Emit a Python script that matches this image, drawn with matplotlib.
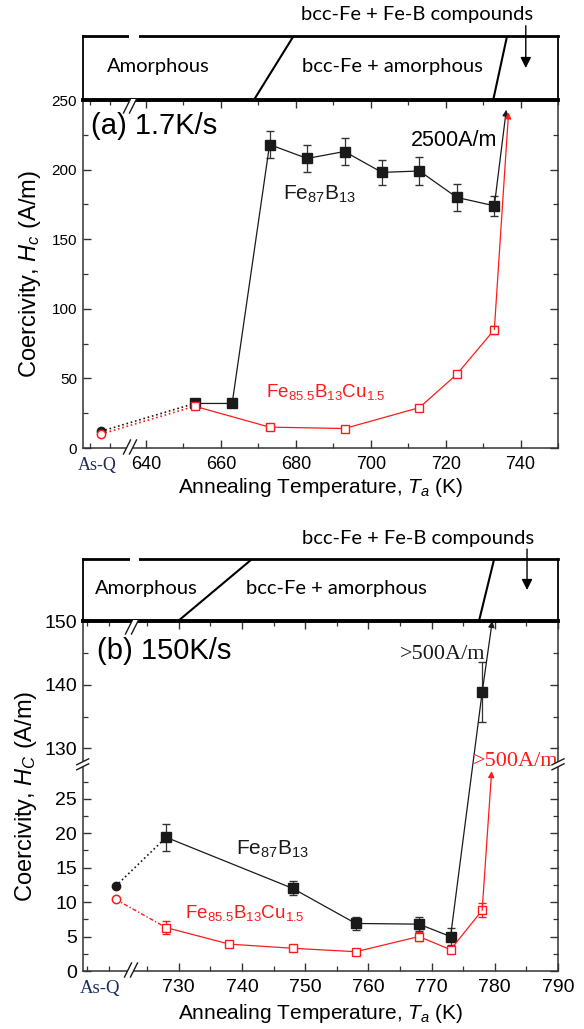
import numpy as np
import matplotlib
matplotlib.use('Agg')
import matplotlib.pyplot as plt
from matplotlib.transforms import IdentityTransform, blended_transform_factory
from matplotlib.patches import Polygon
from matplotlib.lines import Line2D

plt.rcParams['font.family'] = ['Liberation Sans', 'DejaVu Sans']
plt.rcParams['mathtext.fontset'] = 'custom'
plt.rcParams['mathtext.rm'] = 'Liberation Sans'
plt.rcParams['mathtext.it'] = 'Liberation Sans:italic'

# ---- data: (a) 1.7 K/s ----
a_T_fe = [653, 663, 673, 683, 693, 703, 713, 723, 733]
a_hc_fe = [32, 32, 218, 208, 213, 198, 199, 180, 174]
a_err_fe = [0, 0, 10, 10, 10, 9, 10, 10, 7]
a_T_cu = [653, 673, 693, 713, 723, 733]
a_hc_cu = [30, 15, 14, 29, 53, 85]
a_err_cu = [0, 0, 0, 0, 0, 3]
a_asq_T = 628
a_asq_fe = 12
a_asq_cu = 10
a_tip_fe = (736.2, 243)
a_tip_cu = (736.8, 241)

# ---- data: (b) 150 K/s ----
b_T_fe = [728, 748, 758, 768, 773, 778]
b_hc_fe = [19.4, 12.0, 6.9, 6.8, 5.0, 138.8]
b_err_fe = [2.0, 1.0, 1.0, 1.0, 1.2, 4.7]
b_T_cu = [728, 738, 748, 758, 768, 773, 778]
b_hc_cu = [6.3, 3.9, 3.3, 2.8, 5.0, 3.1, 8.8]
b_err_cu = [1.0, 0.3, 0.3, 0.3, 0.6, 0.3, 1.0]
b_asq_T = 720
b_asq_fe = 12.3
b_asq_cu = 10.4
b_tip_fe = (779.6, 150)
b_tip_cu = (779.5, 29)

RED = '#ff1a1a'
BLK = '#1a1a1a'
W, H = 584, 1029

fig = plt.figure(figsize=(W / 100, H / 100), dpi=100)


def rect(l, t, r, b):
    return [l / W, 1 - b / H, (r - l) / W, (b - t) / H]


def pix(x, y):
    return x, H - y


def add_slash(x, y, vertical_spine=False, dx=7, dy=14, gap=6):
    # two parallel slashes with white in between, pixel coords of the image
    if not vertical_spine:
        p1 = [(x - gap / 2 - dx / 2, y + dy / 2), (x - gap / 2 + dx / 2, y - dy / 2)]
        p2 = [(x + gap / 2 - dx / 2, y + dy / 2), (x + gap / 2 + dx / 2, y - dy / 2)]
    else:
        p1 = [(x - dy / 2, y - gap / 2 + dx / 2), (x + dy / 2, y - gap / 2 - dx / 2)]
        p2 = [(x - dy / 2, y + gap / 2 + dx / 2), (x + dy / 2, y + gap / 2 - dx / 2)]
    poly = [pix(*p1[0]), pix(*p1[1]), pix(*p2[1]), pix(*p2[0])]
    fig.add_artist(Polygon(poly, closed=True, facecolor='white', edgecolor='none',
                           transform=IdentityTransform(), zorder=5))
    for p in (p1, p2):
        fig.add_artist(Line2D([pix(*p[0])[0], pix(*p[1])[0]], [pix(*p[0])[1], pix(*p[1])[1]],
                              color=BLK, lw=1.0, transform=IdentityTransform(), zorder=6))


def gap_rect(x0, x1, y, h=4):
    poly = [pix(x0, y - h), pix(x1, y - h), pix(x1, y + h), pix(x0, y + h)]
    fig.add_artist(Polygon(poly, closed=True, facecolor='white', edgecolor='none',
                           transform=IdentityTransform(), zorder=5))


def style_axes(ax, xsize, ysize):
    for s in ['left', 'right', 'bottom']:
        ax.spines[s].set_linewidth(1.1)
        ax.spines[s].set_color('#333333')
    ax.spines['top'].set_visible(False)
    ax.tick_params(which='both', direction='in', top=True, right=True, color='#333333')
    ax.tick_params(which='major', length=6, width=1.0)
    ax.tick_params(which='minor', length=3.5, width=0.9)
    ax.tick_params(axis='x', labelsize=xsize, pad=6)
    ax.tick_params(axis='y', labelsize=ysize, pad=4)


def header(ax, xlim, div1, div2, arrow_x, t_amor, t_bcc, t_comp):
    ax.set_xlim(*xlim)
    ax.set_ylim(0, 1)
    ax.set_xticks([])
    ax.set_yticks([])
    ax.spines['top'].set_linewidth(2.0)
    ax.spines['bottom'].set_linewidth(2.8)
    ax.spines['left'].set_linewidth(1.3)
    ax.spines['right'].set_linewidth(1.3)
    ax.plot(div1[0], [1, 0], color='black', lw=1.5)
    ax.plot(div2[0], [1, 0], color='black', lw=1.5)
    ax.text(t_amor, 0.52, 'Amorphous', ha='center', va='center', fontsize=14.5, family='Lato')
    ax.text(t_bcc, 0.52, 'bcc-Fe + amorphous', ha='center', va='center', fontsize=14.5, family='Lato')
    ax.text(t_comp, 1.33, 'bcc-Fe + Fe-B compounds', ha='center', va='center', fontsize=14.5,
            family='Lato', clip_on=False)
    ax.annotate('', xy=(arrow_x, 0.5), xytext=(arrow_x, 1.16), xycoords='data',
                arrowprops=dict(arrowstyle='-|>', color='black', lw=1.0, mutation_scale=16,
                                shrinkA=0, shrinkB=0), annotation_clip=False)


# ================= panel (a) =================
axA = fig.add_axes(rect(82.7, 100, 558, 448))
hA = fig.add_axes(rect(82.7, 36, 558, 100))
axA.set_xlim(623.1, 750)
axA.set_ylim(0, 250)
style_axes(axA, 13, 11)
axA.set_xticks(np.arange(640, 741, 20))
axA.set_xticks([625, 630.5] + list(np.arange(650, 751, 20)), minor=True)
axA.set_yticks(np.arange(0, 251, 50))
axA.set_yticks(np.arange(25, 250, 50), minor=True)

axA.plot([a_asq_T, a_T_fe[0]], [a_asq_fe, a_hc_fe[0]], ls=':', color=BLK, lw=1.2)
axA.plot([a_asq_T, a_T_cu[0]], [a_asq_cu, a_hc_cu[0]], ls=':', color=RED, lw=1.2)
axA.plot(a_asq_T, a_asq_fe, 'o', color=BLK, ms=6)
axA.plot(a_asq_T, a_asq_cu, 'o', mfc='white', mec=RED, color=RED, ms=6, mew=1.1)
axA.errorbar(a_T_fe, a_hc_fe, yerr=a_err_fe, fmt='none', ecolor='#333333', elinewidth=0.9, capsize=3)
axA.errorbar(a_T_cu, a_hc_cu, yerr=a_err_cu, fmt='none', ecolor=RED, elinewidth=0.9, capsize=3)
axA.plot(a_T_fe, a_hc_fe, '-s', color=BLK, lw=0.9, ms=6.5)
axA.plot(a_T_cu, a_hc_cu, '-s', color=RED, lw=0.9, ms=6, mfc='white', mew=1.0)
axA.annotate('', xy=a_tip_fe, xytext=(a_T_fe[-1], a_hc_fe[-1]),
             arrowprops=dict(arrowstyle='-|>', color=BLK, lw=0.9, mutation_scale=9, shrinkA=0, shrinkB=0))
axA.annotate('', xy=a_tip_cu, xytext=(a_T_cu[-1], a_hc_cu[-1]),
             arrowprops=dict(arrowstyle='-|>', color=RED, lw=0.9, mutation_scale=9, shrinkA=0, shrinkB=0))

axA.text(0.017, 0.925, '(a) 1.7K/s', transform=axA.transAxes, fontsize=21, va='center', ha='left')
axA.text(733.8, 221, '2500A/m', fontsize=15.5, ha='right', va='center')
axA.text(686.4, 182, r'$\mathregular{Fe_{87}B_{13}}$', fontsize=15, ha='center', va='center', color=BLK)
axA.text(688, 40, r'$\mathregular{Fe_{85.5}B_{13}Cu_{1.5}}$', fontsize=13.5, ha='center', va='center',
         color=RED)

trA = blended_transform_factory(axA.transData, axA.transAxes)
axA.text(627, -0.025, 'As-Q', transform=trA, ha='center', va='top', fontsize=13,
         family='Liberation Serif', color='#1f2d5c')
axA.set_xlabel(r'Annealing Temperature, $T_a$ (K)', fontsize=15, labelpad=2)
axA.set_ylabel(r'Coercivity, $H_c$ (A/m)', fontsize=17, labelpad=6)

header(hA, (623.1, 750), ([679.4, 668.8],), ([736.4, 732.7],), 741.4, 643.2, 705.8, 712.5)

# ================= panel (b) =================
LO, HI = 30.0, 127.5
SLO, SHI = 6.87, 6.35


def fwd(v):
    v = np.asarray(v, dtype=float)
    return np.where(v <= LO, v * SLO, np.where(v >= HI, LO * SLO + (v - HI) * SHI, LO * SLO))


def inv(u):
    u = np.asarray(u, dtype=float)
    return np.where(u <= LO * SLO, u / SLO, HI + (u - LO * SLO) / SHI)


axB = fig.add_axes(rect(82.7, 621, 558, 971))
hB = fig.add_axes(rect(82.7, 559, 558, 621))
axB.set_yscale('function', functions=(fwd, inv))
axB.set_xlim(714.8, 790)
axB.set_ylim(0, 150)
style_axes(axB, 14, 14)
axB.set_xticks(np.arange(730, 791, 10))
axB.set_xticks([715.5, 719] + list(np.arange(725, 790, 10)), minor=True)
ymaj = [0, 5, 10, 15, 20, 25, 130, 140, 150]
axB.set_yticks(ymaj)
axB.set_yticklabels([str(v) for v in ymaj])
axB.set_yticks([2.5, 7.5, 12.5, 17.5, 22.5, 27.5, 135, 145], minor=True)
axB.yaxis.set_minor_formatter(matplotlib.ticker.NullFormatter())

axB.plot([b_asq_T, b_T_fe[0]], [b_asq_fe, b_hc_fe[0]], ls=':', color=BLK, lw=1.2)
axB.plot([b_asq_T, b_T_cu[0]], [b_asq_cu, b_hc_cu[0]], ls=(0, (3, 1.5, 1, 1.5)), color=RED, lw=1.0)
axB.plot(b_asq_T, b_asq_fe, 'o', color=BLK, ms=6)
axB.plot(b_asq_T, b_asq_cu, 'o', mfc='white', mec=RED, color=RED, ms=6, mew=1.1)
axB.errorbar(b_T_fe, b_hc_fe, yerr=b_err_fe, fmt='none', ecolor='#333333', elinewidth=0.9, capsize=3)
axB.errorbar(b_T_cu, b_hc_cu, yerr=b_err_cu, fmt='none', ecolor=RED, elinewidth=0.9, capsize=3)
axB.plot(b_T_fe, b_hc_fe, '-s', color=BLK, lw=0.9, ms=6.5)
axB.plot(b_T_cu, b_hc_cu, '-s', color=RED, lw=0.9, ms=6, mfc='white', mew=1.0)
axB.annotate('', xy=b_tip_fe, xytext=(b_T_fe[-1], b_hc_fe[-1]),
             arrowprops=dict(arrowstyle='-|>', color=BLK, lw=0.9, mutation_scale=9, shrinkA=0, shrinkB=0),
             annotation_clip=False)
axB.annotate('', xy=b_tip_cu, xytext=(b_T_cu[-1], b_hc_cu[-1]),
             arrowprops=dict(arrowstyle='-|>', color=RED, lw=0.9, mutation_scale=9, shrinkA=0, shrinkB=0))

axB.text(0.03, 0.915, '(b) 150K/s', transform=axB.transAxes, fontsize=21, va='center', ha='left')
axB.text(778.5, 144.8, '>500A/m', fontsize=16, ha='right', va='center', family='Liberation Serif',
         color=BLK)
axB.text(790, 127.9, '>500A/m', fontsize=16, ha='right', va='center', family='Liberation Serif',
         color=RED)
axB.text(744.9, 17.6, r'$\mathregular{Fe_{87}B_{13}}$', fontsize=15, ha='center', va='center', color=BLK)
axB.text(740.5, 8.4, r'$\mathregular{Fe_{85.5}B_{13}Cu_{1.5}}$', fontsize=13.5, ha='center', va='center',
         color=RED)

trB = blended_transform_factory(axB.transData, axB.transAxes)
axB.text(717.5, -0.025, 'As-Q', transform=trB, ha='center', va='top', fontsize=13.5,
         family='Liberation Serif', color='#1f2d5c')
axB.set_xlabel(r'Annealing Temperature, $T_a$ (K)', fontsize=15, labelpad=4)
axB.set_ylabel(r'Coercivity, $H_C$ (A/m)', fontsize=17, labelpad=4)

header(hB, (714.8, 790), ([741.6, 729.9],), ([779.9, 777.5],), 785.1, 724.8, 754.9, 767.9)

# ---- axis break marks ----
add_slash(130, 447)          # x break, panel a
add_slash(130, 106)          # top edge, panel a
gap_rect(129, 139, 36)       # header top gap, panel a
add_slash(131, 970)          # x break, panel b
add_slash(132, 627)          # top edge, panel b
gap_rect(130, 139, 559)      # header top gap, panel b
yb = H - axB.transData.transform((750, LO))[1]
add_slash(82.7, yb, vertical_spine=True, dx=6, dy=12, gap=5)
add_slash(558, yb, vertical_spine=True, dx=6, dy=12, gap=5)

fig.savefig('out.png', dpi=100)
